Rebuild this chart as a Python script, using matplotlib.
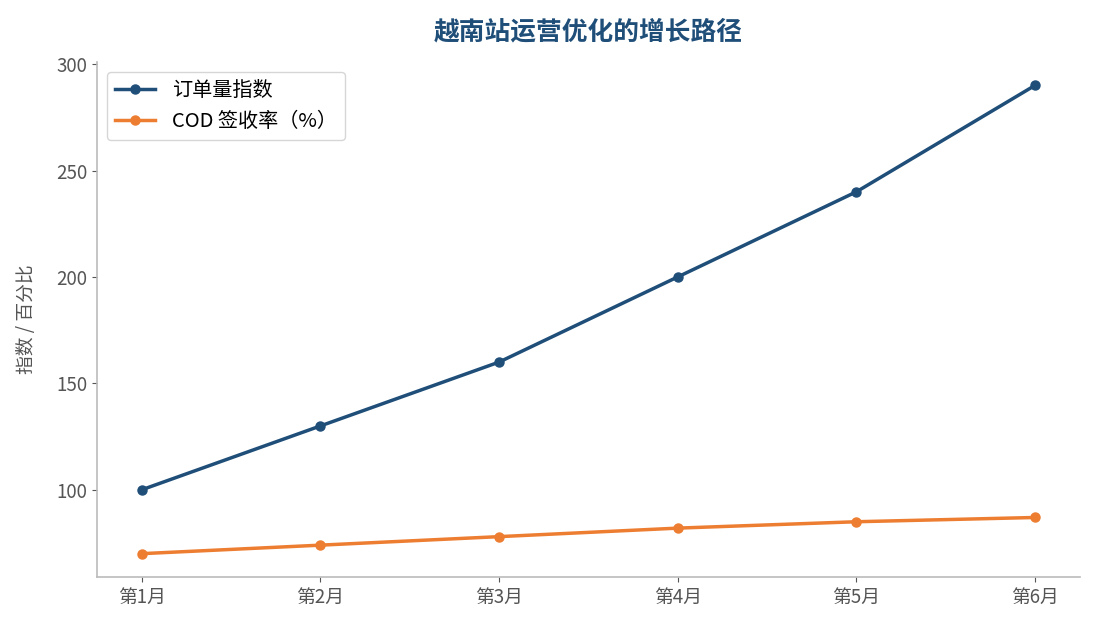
import matplotlib.pyplot as plt

plt.rcParams['font.family'] = ['Noto Sans CJK SC', 'DejaVu Sans']

months = ['第1月', '第2月', '第3月', '第4月', '第5月', '第6月']
order_index = [100, 130, 160, 200, 240, 290]
cod_rate = [70, 74, 78, 82, 85, 87]

fig = plt.figure(figsize=(10.95, 6.3), dpi=100)
ax = fig.add_axes([0.0886, 0.084, 0.8974, 0.8176])

x = range(len(months))
ax.plot(x, order_index, 'o-', color='#1f4e79', lw=2.5, ms=6.5, label='订单量指数')
ax.plot(x, cod_rate, 'o-', color='#ed7d31', lw=2.5, ms=6.5, label='COD 签收率（%）')

ax.set_xticks(list(x))
ax.set_xticklabels(months)
ax.set_ylabel('指数 / 百分比', fontsize=13.5, color='#555555', labelpad=14)
ax.set_title('越南站运营优化的增长路径', fontsize=18.5, fontweight='bold', color='#1f4e79', pad=16)

for s in ['top', 'right']:
    ax.spines[s].set_visible(False)
for s in ['left', 'bottom']:
    ax.spines[s].set_color('#bbbbbb')
    ax.spines[s].set_linewidth(1.2)
ax.tick_params(colors='#555555', labelsize=13.5)

leg = ax.legend(loc='upper left', fontsize=14.5, frameon=True, borderaxespad=0.5)
leg.get_frame().set_edgecolor('#cccccc')

fig.savefig('out.png', dpi=100)
